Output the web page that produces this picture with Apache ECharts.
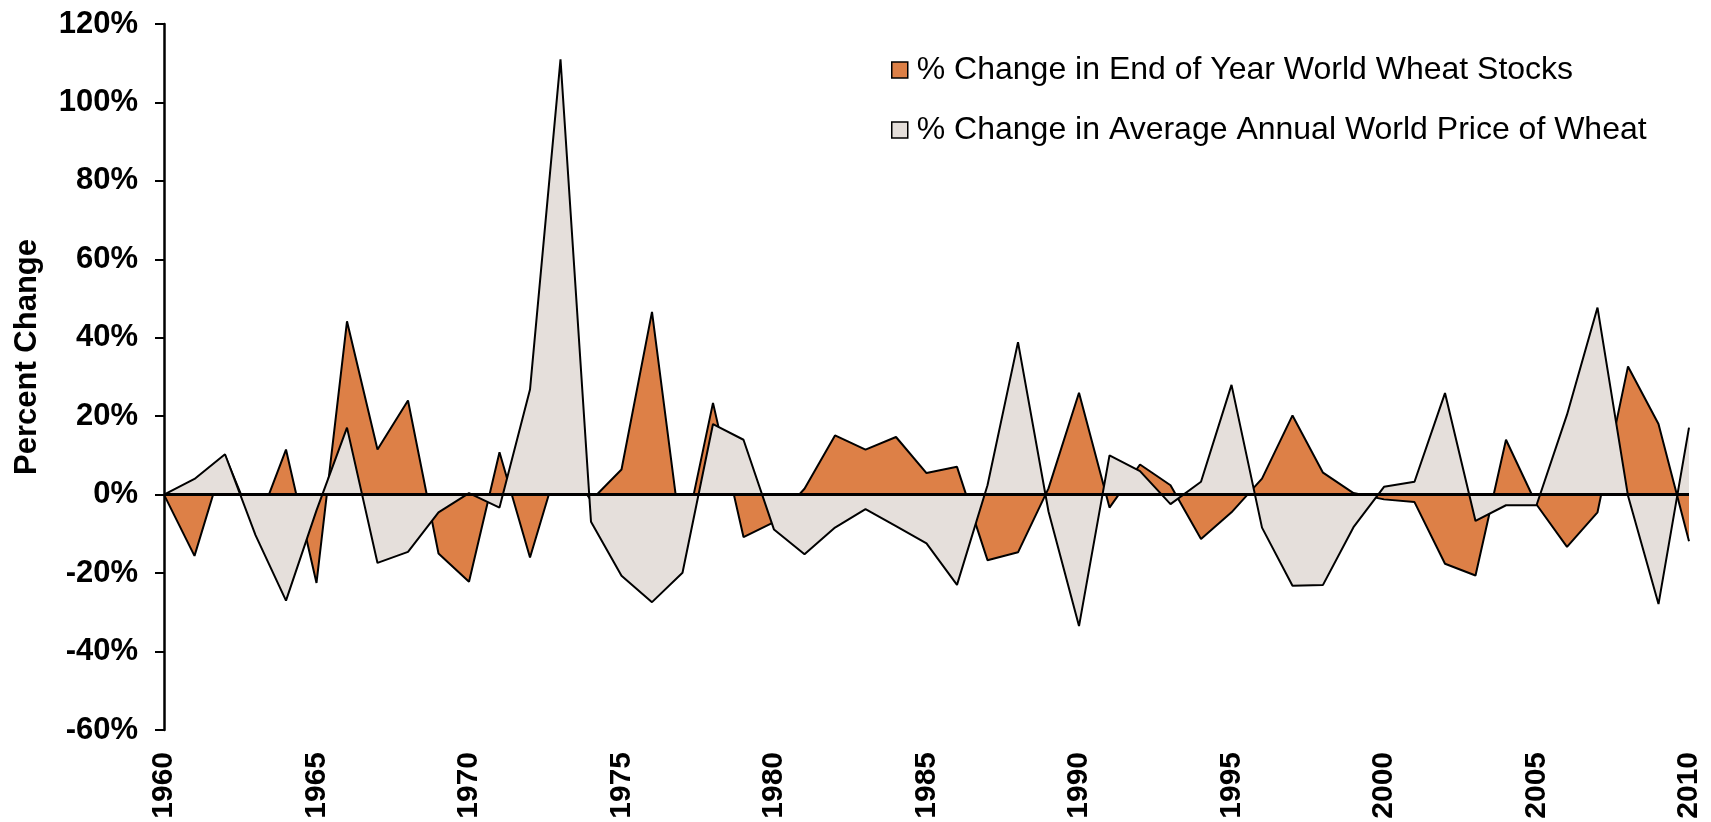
<!DOCTYPE html>
<html>
<head>
<meta charset="utf-8">
<script src="https://cdn.jsdelivr.net/npm/echarts@6/dist/echarts.min.js"></script>
<style>
html,body{margin:0;padding:0;background:#fff;}
#chart{width:1711px;height:822px;}
</style>
</head>
<body>
<div id="chart"></div>
<script>
const years = [];
for (let y = 1960; y <= 2010; y++) years.push(y);

const stocksChange = [
  0, -15.6, 10, -9, 11.5, -22.5, 44.2, 11.5, 24.0, -15.0,
  -22.2, 10.8, -16.0, 10, -1.5, 6.4, 46.6, -13.5, 23.4, -10.8,
  -7, 1.5, 15.1, 11.5, 14.7, 5.5, 7.1, -16.7, -14.7, 1.6,
  26.0, -3.3, 7.7, 2.4, -11.3, -4.5, 4.1, 20.2, 5.6, 0.4,
  -1.2, -1.9, -17.6, -20.6, 14.0, -2.5, -13.3, -4.5, 32.7, 18.0,
  -11.9
];

const priceChange = [
  0, 4.0, 10.3, -10.3, -27.0, -4.0, 17.1, -17.4, -14.6, -4.5,
  0.4, -3.3, 26.8, 111.0, -6.9, -20.7, -27.4, -19.9, 18.0, 14.0,
  -8.9, -15.2, -8.4, -3.7, -8.0, -12.4, -23.0, 2.4, 38.9, -4.3,
  -33.5, 10.0, 6.0, -2.4, 3.3, 28.0, -8.4, -23.2, -23.0, -8.3,
  2.0, 3.3, 25.9, -6.7, -2.7, -2.7, 20.4, 47.7, -0.3, -27.9,
  17.1
];

const seriesNames = [
  '% Change in End of Year World Wheat Stocks',
  '% Change in Average Annual World Price of Wheat'
];
const yTicks = { min: -60, max: 120, interval: 20 };
const xTicks = { min: 1960, max: 2010, interval: 5 };

const FONT = '"Liberation Sans", Arial, Helvetica, sans-serif';

const chart = echarts.init(document.getElementById('chart'), null, { renderer: 'canvas' });

const pairs = arr => years.map((y, i) => [y, arr[i]]);

chart.setOption({
  backgroundColor: '#fff',
  animation: false,
  grid: { left: 164, right: 22, top: 24, bottom: 92, containLabel: false },
  legend: {
    orient: 'vertical',
    left: 886,
    top: 49,
    icon: 'rect',
    itemWidth: 16,
    itemHeight: 16,
    itemGap: 28,
    itemStyle: { borderColor: '#000', borderWidth: 1.5 },
    textStyle: { fontFamily: FONT, fontSize: 32, color: '#000', lineHeight: 32, padding: [0, 0, 0, 4] },
    data: seriesNames
  },
  xAxis: {
    type: 'value',
    min: xTicks.min,
    max: xTicks.max,
    interval: xTicks.interval,
    axisLine: { show: false, onZero: false },
    axisTick: { show: false },
    splitLine: { show: false },
    axisLabel: {
      rotate: 90,
      margin: 22,
      fontFamily: FONT,
      fontWeight: 'bold',
      fontSize: 30,
      color: '#000',
      formatter: v => String(v)
    }
  },
  yAxis: {
    type: 'value',
    min: yTicks.min,
    max: yTicks.max,
    interval: yTicks.interval,
    name: 'Percent Change',
    nameLocation: 'middle',
    nameRotate: 90,
    nameGap: 121,
    nameTextStyle: { fontFamily: FONT, fontWeight: 'bold', fontSize: 31, color: '#000', padding: [0, 0, 0, 40] },
    axisLine: { show: true, lineStyle: { color: '#000', width: 2.5 } },
    axisTick: { show: true, length: 9, lineStyle: { color: '#000', width: 2 } },
    splitLine: { show: false },
    axisLabel: {
      margin: 26,
      fontFamily: FONT,
      fontWeight: 'bold',
      fontSize: 31,
      color: '#000',
      formatter: v => v + '%'
    }
  },
  series: [
    {
      name: seriesNames[0],
      type: 'line',
      data: pairs(stocksChange),
      color: '#DD8047',
      symbol: 'none',
      lineStyle: { color: '#000', width: 2 },
      areaStyle: { color: '#DD8047', opacity: 1, origin: 0 },
      z: 2
    },
    {
      name: seriesNames[1],
      type: 'line',
      data: pairs(priceChange),
      color: '#E5DFDB',
      symbol: 'none',
      lineStyle: { color: '#000', width: 2 },
      areaStyle: { color: '#E5DFDB', opacity: 1, origin: 0 },
      z: 3,
      markLine: {
        silent: true,
        symbol: ['none', 'none'],
        label: { show: false },
        lineStyle: { color: '#000', width: 3, type: 'solid' },
        data: [{ yAxis: 0 }],
        z: 5
      }
    }
  ]
});
</script>
</body>
</html>
